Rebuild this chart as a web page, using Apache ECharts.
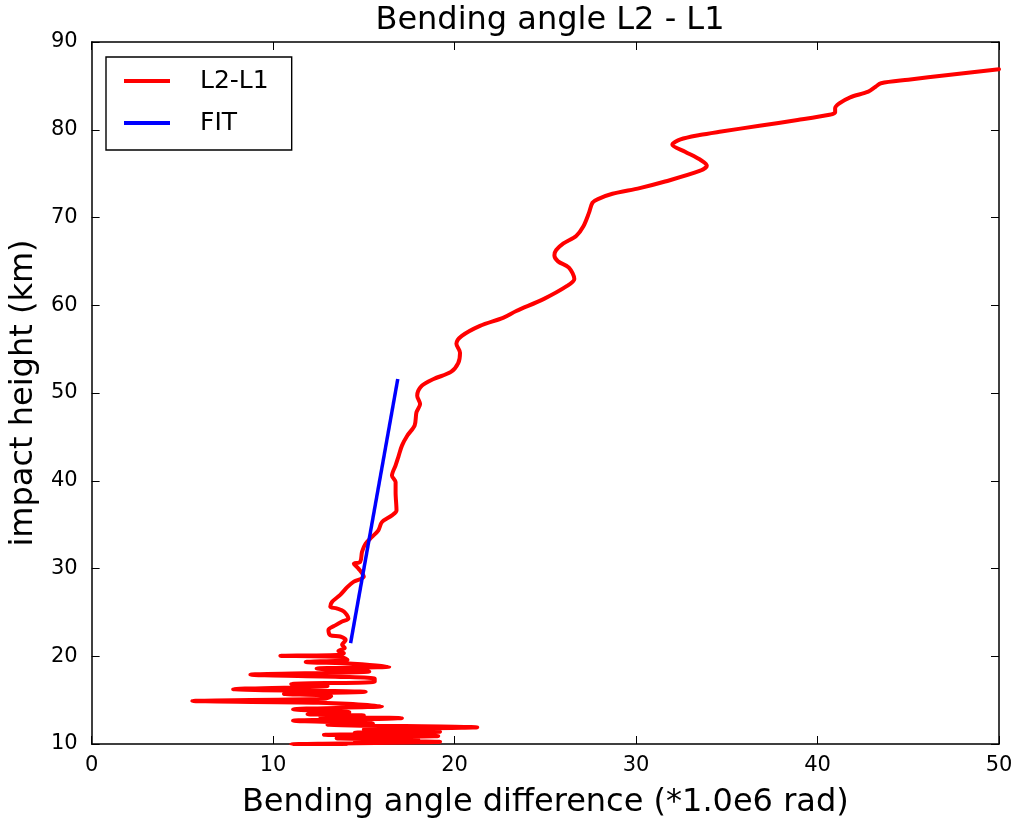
<!DOCTYPE html>
<html>
<head>
<meta charset="utf-8">
<script src="https://cdn.jsdelivr.net/npm/echarts@6/dist/echarts.min.js"></script>
<style>html,body{margin:0;padding:0;background:#fff}#c{width:1017px;height:824px}</style>
</head>
<body>
<div id="c"></div>
<script>
// Bending angle difference L2-L1 (*1.0e6 rad) vs impact height (km), top to bottom
const l2l1X = [50.0,47.2,45.0,43.5,43.2,42.8,41.8,41.2,40.97,40.97,40.66,38.9,36.8,34.7,33.5,32.45,32.0,32.7,33.6,33.9,33.5,31.6,30.2,28.7,27.9,27.6,27.4,27.1,26.7,26.0,25.6,25.5,25.7,26.3,26.6,26.2,24.9,23.4,22.7,21.4,20.4,20.1,20.3,20.2,19.8,18.85,18.2,17.94,18.1,17.9,17.8,17.4,17.1,16.9,16.75,16.55,16.75,16.75,16.8,16.55,16.0,15.8,15.45,15.1,14.9,14.8,14.45,14.7,15.0,14.45,14.1,13.7,13.25,13.15,13.5,13.9,14.15,13.8,13.45,13.05,13.15,13.7,14.0,13.8,13.95,13.6,13.9,13.5,10.4,13.8,14.1,11.8,14.4,16.4,12.4,15.3,8.75,15.6,15.6,11.0,13.0,7.8,15.1,10.6,13.2,12.8,5.55,12.5,16.0,11.1,14.2,11.9,15.0,12.6,17.1,11.1,15.5,13.0,21.25,15.0,19.2,14.5,18.5,12.8,19.1,13.5,18.0,14.5,19.2,11.0,14.0];
const l2l1H = [86.9,86.25,85.7,85.3,84.9,84.35,83.7,83.0,82.45,81.97,81.7,81.1,80.45,79.8,79.4,78.9,78.3,77.5,76.5,75.9,75.3,74.1,73.35,72.7,72.1,71.7,70.5,69.0,67.9,67.05,66.3,65.7,65.0,64.3,63.0,62.2,60.7,59.35,58.6,57.65,56.5,55.6,54.6,53.4,52.4,51.6,50.83,49.7,48.75,47.8,46.3,45.15,44.0,42.7,41.75,40.6,39.85,38.7,36.6,36.05,35.3,34.35,33.6,32.85,31.9,30.75,30.55,30.0,29.05,28.5,27.9,27.0,26.2,25.65,25.45,25.1,24.3,23.95,23.55,23.0,22.4,22.25,21.85,21.3,20.95,20.6,20.35,20.15,20.05,19.9,19.6,19.35,19.15,18.8,18.6,18.25,17.9,17.45,17.1,16.85,16.6,16.25,15.95,15.7,15.45,15.15,14.9,14.7,14.3,13.95,13.65,13.4,13.25,13.1,12.95,12.65,12.35,12.2,11.9,11.65,11.4,11.3,11.2,11.05,10.9,10.65,10.5,10.4,10.25,9.95,9.7];
const fitX = [14.27, 16.87];
const fitH = [21.5, 51.6];
const xTicks = [0, 10, 20, 30, 40, 50];
const yTicks = [10, 20, 30, 40, 50, 60, 70, 80, 90];

const FONT = 'DejaVu Sans';
const chart = echarts.init(document.getElementById('c'), null, {renderer: 'canvas'});
const axisCommon = {
  type: 'value',
  axisLine: {show: true, onZero: false, lineStyle: {color: '#000', width: 1.5}},
  axisTick: {show: true, inside: true, length: 8, lineStyle: {color: '#000', width: 1}},
  splitLine: {show: false}
};
const xMin = xTicks[0], xMax = xTicks[xTicks.length - 1], xInt = xTicks[1] - xTicks[0];
const yMin = yTicks[0], yMax = yTicks[yTicks.length - 1], yInt = yTicks[1] - yTicks[0];
chart.setOption({
  animation: false,
  backgroundColor: '#fff',
  textStyle: {fontFamily: FONT},
  title: {
    text: 'Bending angle L2 - L1',
    left: 545, top: 0, textAlign: 'center',
    textStyle: {fontFamily: FONT, fontSize: 32, fontWeight: 'normal', color: '#000'}
  },
  grid: {left: 91, right: 18, top: 42, bottom: 78, containLabel: false},
  legend: {
    orient: 'vertical', left: 106, top: 57,
    padding: [9, 23, 12, 18],
    itemWidth: 46, itemHeight: 4, itemGap: 12,
    icon: 'rect',
    borderColor: '#000', borderWidth: 1.4, borderRadius: 0,
    backgroundColor: '#fff',
    textStyle: {fontFamily: FONT, fontSize: 25, color: '#000', lineHeight: 30, padding: [0, 0, 0, 25]},
    data: ['L2-L1', 'FIT']
  },
  xAxis: [
    Object.assign({}, axisCommon, {
      position: 'bottom', min: xMin, max: xMax, interval: xInt,
      name: 'Bending angle difference (*1.0e6 rad)', nameLocation: 'middle', nameGap: 43,
      nameTextStyle: {fontFamily: FONT, fontSize: 32, color: '#000'},
      axisLabel: {fontFamily: FONT, fontSize: 21, color: '#000', margin: 11}
    }),
    Object.assign({}, axisCommon, {
      position: 'top', min: xMin, max: xMax, interval: xInt, axisLabel: {show: false}
    })
  ],
  yAxis: [
    Object.assign({}, axisCommon, {
      position: 'left', min: yMin, max: yMax, interval: yInt,
      name: 'impact height (km)', nameLocation: 'middle', nameGap: 48,
      nameTextStyle: {fontFamily: FONT, fontSize: 32, color: '#000'},
      axisLabel: {fontFamily: FONT, fontSize: 21, color: '#000', margin: 14}
    }),
    Object.assign({}, axisCommon, {
      position: 'right', min: yMin, max: yMax, interval: yInt, axisLabel: {show: false}
    })
  ],
  series: [
    {
      name: 'L2-L1', type: 'line', xAxisIndex: 0, yAxisIndex: 0,
      data: l2l1X.map((x, i) => [x, l2l1H[i]]),
      showSymbol: false, symbol: 'none', smooth: 0.3, clip: true,
      lineStyle: {color: '#ff0000', width: 4, cap: 'round', join: 'round'},
      itemStyle: {color: '#ff0000'}
    },
    {
      name: 'FIT', type: 'line', xAxisIndex: 0, yAxisIndex: 0,
      data: fitX.map((x, i) => [x, fitH[i]]),
      showSymbol: false, symbol: 'none', clip: true,
      lineStyle: {color: '#0000ff', width: 3.5},
      itemStyle: {color: '#0000ff'}
    }
  ]
});
</script>
</body>
</html>
